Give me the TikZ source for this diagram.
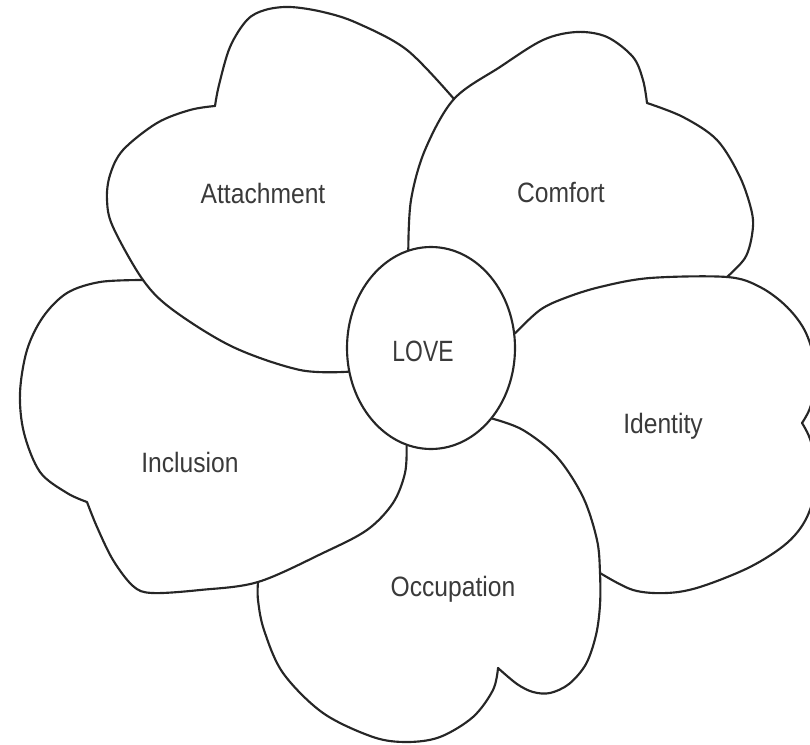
\documentclass[tikz,border=0pt]{standalone}
\usepackage{fontspec}
\setmainfont{Liberation Sans}
\newfontfamily\lblfont{Liberation Sans}[FakeStretch=0.88]
\newfontfamily\lovefont{Liberation Sans}[FakeStretch=0.78]
\usetikzlibrary{shapes.geometric}
\definecolor{linec}{HTML}{262626}
\definecolor{textc}{HTML}{3A3A3A}
\begin{document}
\begin{tikzpicture}[x=0.75pt,y=-0.75pt,
  petal/.style={draw=linec, line width=1.6pt, line join=round, line cap=round},
  lbl/.style={anchor=base, text=textc, font=\lblfont\fontsize{21}{24}\selectfont, inner sep=0pt},
  smoothline/.style={smooth, tension=0.55}]
\useasboundingbox (0,0) rectangle (810,745);
\clip (0,0) rectangle (810,745);

% centre
\node[draw=linec, line width=1.6pt, ellipse, minimum width=126pt, minimum height=151.5pt, inner sep=0pt] (love) at (431,348) {};

% junction points
\coordinate (jAC) at (454,99);
\coordinate (jCI) at (727,277);
\coordinate (jIO) at (600,573);
\coordinate (jON) at (258,582);
\coordinate (jNA) at (143,280);

% notches
\coordinate (nA) at (215,106);
\coordinate (nC) at (647,103);
\coordinate (nI) at (802,423);
\coordinate (nO) at (498,668);
\coordinate (nN) at (87,502);

% Attachment
\draw[petal] plot[smoothline] coordinates {(love.196) (300,370) (233,347) (173,310) (jNA) (113,227) (107,200) (110,175) (123,150) (157,123) (190,110) (nA)};
\draw[petal] plot[smoothline] coordinates {(nA) (219,85) (230,47) (247,20) (265,10) (290,7) (323,12) (357,23) (407,50) (jAC)};

% Comfort
\draw[petal] plot[smoothline] coordinates {(love.103) (411,200) (425,150) (jAC) (500,67) (543,40) (577,32) (607,37) (633,57) (643,80) (nC)};
\draw[petal] plot[smoothline] coordinates {(nC) (683,117) (717,140) (740,177) (752,213) (752,235) (745,258) (jCI)};

% Identity
\draw[petal] plot[smoothline] coordinates {(love.10) (540,310) (565,298) (600,287) (650,278) (jCI) (760,287) (787,307) (806,333) (816,370) (811,405) (nI)};
\draw[petal] plot[smoothline] coordinates {(nI) (811,442) (817,480) (807,517) (787,543) (750,567) (700,587) (667,593) (633,590) (jIO)};

% Occupation
\draw[petal] plot[smoothline] coordinates {(love.311) (523,430) (557,457) (583,497) (597,540) (jIO) (600,605) (596,635) (586,664) (569,684) (550,693) (533,692) (517,684) (nO)};
\draw[petal] plot[smoothline] coordinates {(nO) (493,690) (473,717) (440,737) (407,742) (373,737) (323,713) (283,673) (264,630) (258,600) (jON)};

% Inclusion
\draw[petal] plot[smoothline] coordinates {(love.256) (405,473) (393,503) (367,530) (323,553) (jON) (200,590) (152,593) (133,586) (113,560) (97,527) (nN)};
\draw[petal] plot[smoothline] coordinates {(nN) (67,493) (40,472) (24,433) (20,393) (27,350) (43,317) (67,293) (100,282) (jNA)};

% labels
\node[lbl, font=\lovefont\fontsize{22}{24}\selectfont] (tlove) at (423,361) {LOVE};
\node[lbl] (tatt) at (263,204) {Attachment};
\node[lbl] (tcom) at (561,203) {Comfort};
\node[lbl] (tide) at (663,433) {Identity};
\node[lbl] (tinc) at (190,472) {Inclusion};
\node[lbl] (tocc) at (453,596) {Occupation};
\end{tikzpicture}
\end{document}
